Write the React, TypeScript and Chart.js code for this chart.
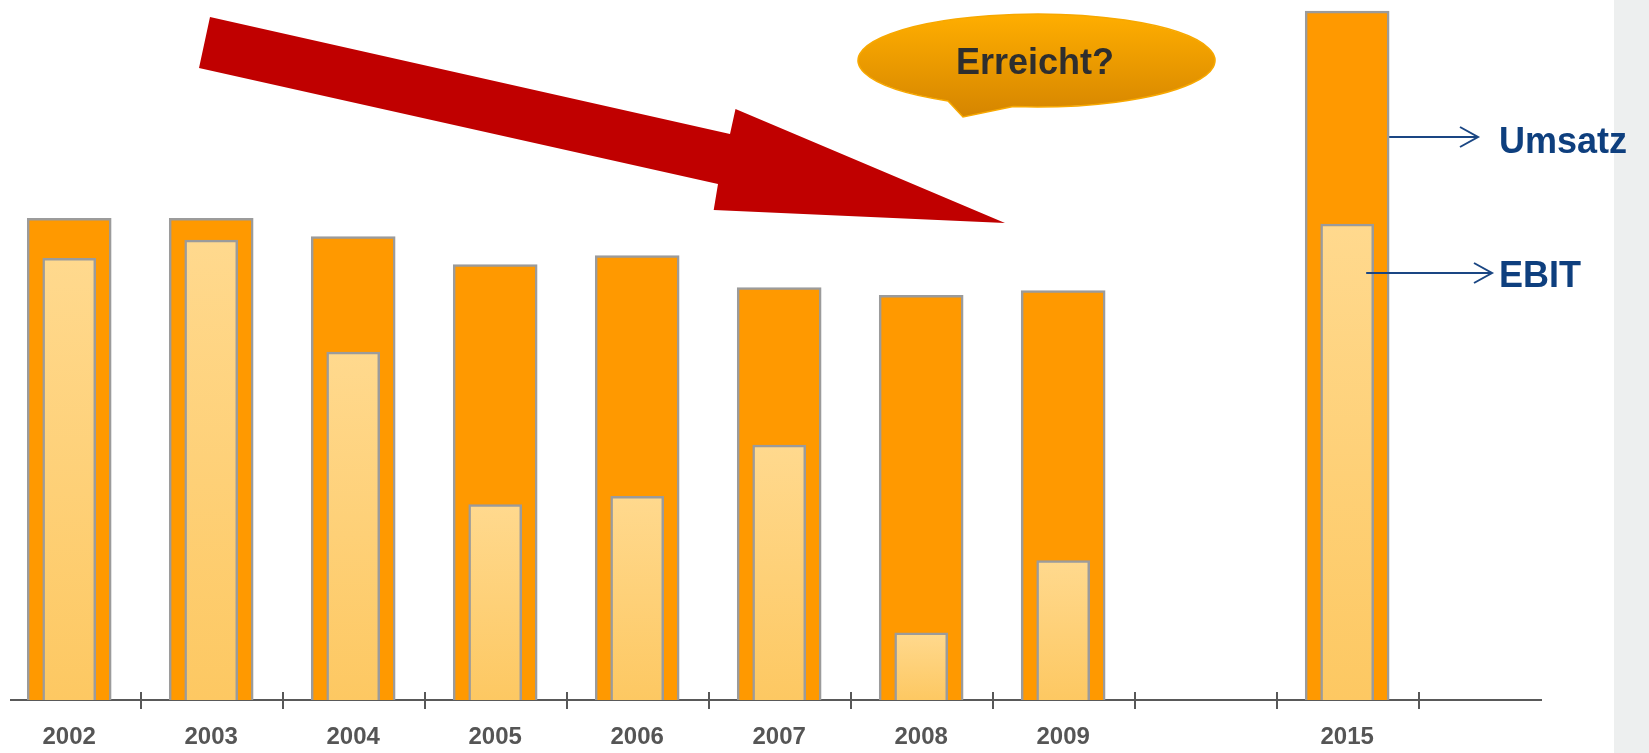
import React, { useEffect, useRef } from "react";
import { Chart, registerables } from "chart.js";

Chart.register(...registerables);

// ---- data (relative units, 0..100 scale) ----
const categories = ["2002", "2003", "2004", "2005", "2006", "2007", "2008", "2009", "", "2015"];
const umsatz = [68.8, 68.8, 66.2, 62.2, 63.5, 58.9, 57.8, 58.5, null, 98.4];
const ebit = [63.1, 65.7, 49.7, 27.9, 29.1, 36.4, 9.6, 19.9, null, 68.0];
const seriesNames = ["Umsatz", "EBIT"];
const calloutText = "Erreicht?";

const FONT = "'Liberation Sans', Arial, Helvetica, sans-serif";

const toPoints = (arr: (number | null)[]) =>
  arr
    .map((v, i) => (v === null ? null : { x: i, y: v }))
    .filter((p) => p !== null) as { x: number; y: number }[];

const decorPlugin = {
  id: "decor",
  beforeDraw(chart: any) {
    const { ctx, width, height } = chart;
    ctx.save();
    ctx.fillStyle = "#ffffff";
    ctx.fillRect(0, 0, width, height);
    ctx.fillStyle = "#EDEFEF";
    ctx.fillRect(1614, 0, width - 1614, height);
    ctx.restore();
  },
  afterDraw(chart: any) {
    const { ctx } = chart;
    const xs = chart.scales.x;
    const axisY = xs.top;

    ctx.save();
    // tick marks crossing the axis, between categories
    ctx.strokeStyle = "#585858";
    ctx.lineWidth = 2;
    for (let i = 0; i < categories.length; i++) {
      const px = Math.round(xs.getPixelForValue(i + 0.5)) + 1;
      ctx.beginPath();
      ctx.moveTo(px, axisY - 8);
      ctx.lineTo(px, axisY + 9);
      ctx.stroke();
    }

    // big red arrow
    ctx.fillStyle = "#C00000";
    ctx.beginPath();
    ctx.moveTo(210, 17);
    ctx.lineTo(730, 134);
    ctx.lineTo(735.5, 109);
    ctx.lineTo(1005, 223);
    ctx.lineTo(713.7, 210);
    ctx.lineTo(718, 184);
    ctx.lineTo(199, 68);
    ctx.closePath();
    ctx.fill();

    // speech bubble
    const ecx = 1036.5, ecy = 60.5, rx = 178.5, ry = 46.5;
    const deg = Math.PI / 180;
    ctx.beginPath();
    ctx.ellipse(ecx, ecy, rx, ry, 0, 119.7 * deg, (360 + 97.5) * deg, false);
    ctx.lineTo(963, 117);
    ctx.closePath();
    const g = ctx.createLinearGradient(0, 14, 0, 117);
    g.addColorStop(0, "#FFAE00");
    g.addColorStop(1, "#D58500");
    ctx.fillStyle = g;
    ctx.fill();
    ctx.strokeStyle = "#F7A800";
    ctx.lineWidth = 1.5;
    ctx.stroke();

    ctx.fillStyle = "#2E2E2E";
    ctx.font = `bold 36px ${FONT}`;
    ctx.textAlign = "center";
    ctx.textBaseline = "alphabetic";
    ctx.fillText(calloutText, 1035, 74);

    // leader arrows to series names
    const cx = xs.getPixelForValue(categories.length - 1);
    ctx.strokeStyle = "#1A4683";
    ctx.lineWidth = 2;
    const leader = (x0: number, x1: number, y: number) => {
      ctx.beginPath();
      ctx.moveTo(x0, y);
      ctx.lineTo(x1, y);
      ctx.moveTo(x1 - 18, y - 10);
      ctx.lineTo(x1, y);
      ctx.lineTo(x1 - 18, y + 10);
      ctx.stroke();
    };
    leader(cx + 42, 1478, 137);
    leader(cx + 19, 1492, 273);

    ctx.fillStyle = "#0E3F7E";
    ctx.textAlign = "left";
    ctx.font = `bold 36px ${FONT}`;
    ctx.fillText(seriesNames[0], 1499, 153);
    ctx.fillText(seriesNames[1], 1499, 287);
    ctx.restore();
  },
};

export default function App() {
  const ref = useRef<HTMLCanvasElement | null>(null);

  useEffect(() => {
    if (!ref.current) return;
    Chart.defaults.font.family = FONT;

    const innerFill = (c: any) => {
      const chart = c.chart;
      if (!chart.chartArea || c.type !== "data" || !c.parsed) return "#FED27E";
      const ys = chart.scales.y;
      const top = ys.getPixelForValue(c.parsed.y);
      const bottom = ys.getPixelForValue(0);
      const gr = chart.ctx.createLinearGradient(0, top, 0, bottom);
      gr.addColorStop(0, "#FFD98E");
      gr.addColorStop(1, "#FDC862");
      return gr;
    };

    const chart = new Chart(ref.current, {
      type: "bar",
      data: {
        datasets: [
          {
            label: seriesNames[0],
            data: toPoints(umsatz),
            backgroundColor: "#FF9900",
            borderColor: "#9B9B9B",
            borderWidth: 2.5,
            barThickness: 84,
            grouped: false,
            order: 1,
          },
          {
            label: seriesNames[1],
            data: toPoints(ebit),
            backgroundColor: innerFill,
            borderColor: "#9B9B9B",
            borderWidth: 2.5,
            barThickness: 53,
            grouped: false,
            order: 0,
          },
        ],
      } as any,
      options: {
        animation: false,
        responsive: false,
        events: [],
        layout: { padding: { left: 11, right: 108, top: 0, bottom: 0 } },
        plugins: { legend: { display: false }, tooltip: { enabled: false } },
        scales: {
          x: {
            type: "linear",
            min: -0.41,
            max: 10.365,
            offset: false,
            afterBuildTicks: (scale: any) => {
              scale.ticks = categories.map((_, i) => ({ value: i }));
            },
            afterFit: (scale: any) => {
              scale.height = 53;
            },
            grid: { display: false, drawTicks: false, offset: false },
            border: { display: true, color: "#595959", width: 2 },
            ticks: {
              autoSkip: false,
              maxRotation: 0,
              padding: 23,
              color: "#555555",
              font: { family: FONT, size: 24, weight: "bold" },
              callback: (v: any) => categories[v] ?? "",
            },
          },
          y: {
            display: false,
            min: 0,
            max: 100,
          },
        },
      } as any,
      plugins: [decorPlugin],
    });
    return () => chart.destroy();
  }, []);

  return (
    <div style={{ position: "fixed", left: 0, top: 0, width: 1649, height: 753 }}>
      <canvas ref={ref} width={1649} height={753} style={{ width: 1649, height: 753, display: "block" }} />
    </div>
  );
}
